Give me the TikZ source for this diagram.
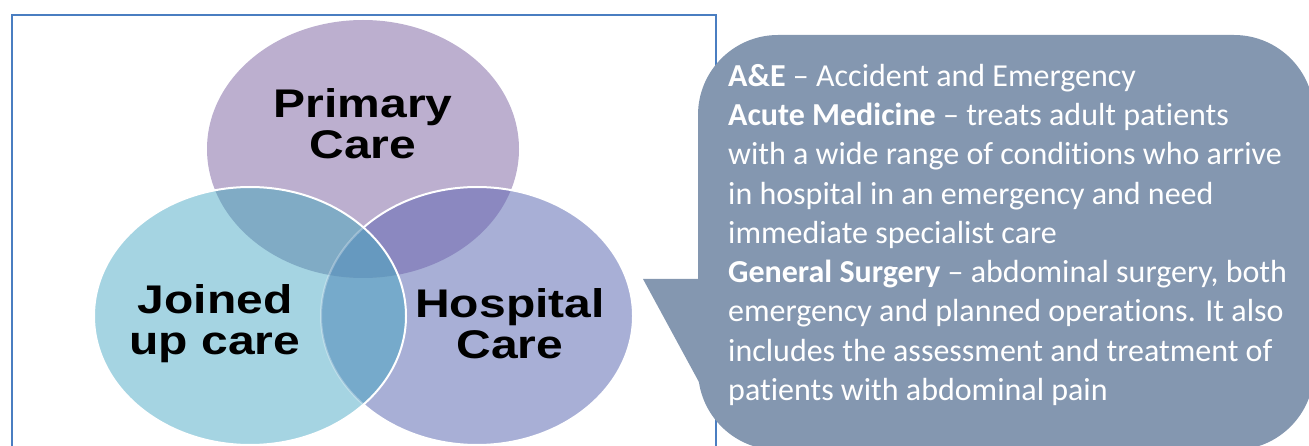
\documentclass[tikz,border=0pt]{standalone}
\usepackage{fontspec}
\newfontfamily\calibrifont{Carlito}[Ligatures={TeX,NoCommon}]
\newfontfamily\arialfont{Liberation Sans}
\usetikzlibrary{positioning}

\definecolor{boxblue}{RGB}{74,126,193}
\definecolor{primarycol}{RGB}{188,175,207}
\definecolor{joinedcol}{RGB}{165,212,226}
\definecolor{hospitalcol}{RGB}{168,175,214}
\definecolor{pjcol}{RGB}{128,171,197}
\definecolor{phcol}{RGB}{139,136,192}
\definecolor{jhcol}{RGB}{118,170,203}
\definecolor{allcol}{RGB}{102,153,191}
\definecolor{calloutcol}{RGB}{132,151,176}

\begin{document}
\begin{tikzpicture}[x=1pt,y=-1pt]
\tikzset{venntext/.style={font=\arialfont\bfseries\fontsize{40}{41}\selectfont, align=center, xscale=1.2, transform shape, inner sep=0pt}}
\tikzset{infotext/.style={font=\calibrifont\fontsize{32}{39.25}\selectfont, text=white, align=left, anchor=north west, inner sep=0pt}}
\tikzset{rim/.style={draw=white, line width=2pt}}
\useasboundingbox (0,0) rectangle (1309,446);
% frame round the venn picture
\draw[boxblue, line width=2pt] (12,470) -- (12,15) -- (716,15) -- (716,470);
% the three sets
\def\ellP{(363,149) ellipse [x radius=156pt, y radius=129pt]}
\def\ellJ{(250,316) ellipse [x radius=156pt, y radius=129pt]}
\def\ellH{(477,316) ellipse [x radius=156pt, y radius=129pt]}
\fill[primarycol] \ellP;
\fill[hospitalcol] \ellH;
\begin{scope}
  \clip \ellP;
  \fill[phcol] \ellH;
\end{scope}
\draw[rim] \ellH;
\fill[joinedcol] \ellJ;
\begin{scope}
  \clip \ellJ;
  \fill[jhcol] \ellH;
  \begin{scope}
    \clip \ellP;
    \fill[pjcol] \ellJ;
    \fill[allcol] \ellH;
  \end{scope}
  \draw[rim, draw opacity=0.3] \ellH;
\end{scope}
\draw[rim] \ellJ;
\node[venntext] (primary) at (363,124) {Primary\\Care};
\node[venntext] (joined) at (215,324) {Joined\\up care};
\node[venntext] (hospital) at (510,324) {Hospital\\Care};
% callout with the definitions
\fill[calloutcol, rounded corners=80pt] (698,35) rectangle (1314,450);
\fill[calloutcol] (643,279) -- (706,279) -- (706,395) -- cycle;
\node[infotext] (defs) at (728,64) {\textbf{A\&E} \textendash{} Accident and Emergency\\
\textbf{Acute Medicine} \textendash{} treats adult patients\\
with a wide range of conditions who arrive\\
in hospital in an emergency and need\\
immediate specialist care\\
\textbf{General Surgery} \textendash{} abdominal surgery, both\\
emergency and planned operations. It also\\
includes the assessment and treatment of\\
patients with abdominal pain};
\end{tikzpicture}
\end{document}
